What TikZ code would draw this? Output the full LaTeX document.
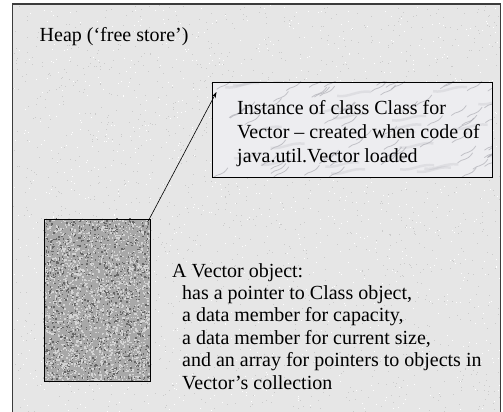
\documentclass[tikz,border=0pt]{standalone}
\usepackage{fontspec}
\setmainfont{Liberation Serif}
\usetikzlibrary{arrows.meta}
\definecolor{heapbg}{HTML}{E6E6E6}
\definecolor{heapdot}{HTML}{CBCBCB}
\definecolor{framec}{HTML}{3C3C3C}
\definecolor{marble}{HTML}{EDEDF0}
\definecolor{vein}{HTML}{9E9EA6}
\definecolor{granite}{HTML}{A8A8A8}
\definecolor{granitedark}{HTML}{666666}
\definecolor{granitelight}{HTML}{D4D4D4}
\tikzset{
  frameline/.style={draw=framec, line width=1.4pt},
  objbox/.style={draw=black, line width=1pt, inner sep=0pt, anchor=north west},
  body/.style={inner sep=0pt, anchor=base west, align=left, text=black},
  pointer/.style={draw=black, line width=0.6pt, -{Stealth[length=6pt,width=4pt]}},
}
\begin{document}
\begin{tikzpicture}[x=1pt, y=-1pt]
\useasboundingbox (0,0) rectangle (503,412);
\clip (0,0) rectangle (503,412);
\fill[white] (0,0) rectangle (503,412);

% heap area with a speckled stone fill
\fill[heapbg] (12.5,4) rectangle (500.5,420);
\pgfmathsetseed{17}
\foreach \i in {1,...,1600} {
  \fill[heapdot] ({13+487*rnd},{5+410*rnd}) rectangle ++(1,1);
}
\foreach \i in {1,...,1000} {
  \fill[white] ({13+487*rnd},{5+410*rnd}) rectangle ++(1,1);
}
\draw[frameline] (12.5,420) -- (12.5,4) -- (500.5,4) -- (500.5,420);

% the Class instance: marble slab
\node[objbox, fill=marble, minimum width=280pt, minimum height=95pt] (cls) at (211.5,81.5) {};
\begin{scope}
  \clip (cls.north west) rectangle (cls.south east);
  \foreach \i in {1,...,24} {
    \pgfmathsetmacro{\vx}{205+290*rnd}
    \pgfmathsetmacro{\vy}{78+100*rnd}
    \draw[vein, line width=2.5pt, opacity=0.18]
      (\vx,\vy) .. controls ({\vx+12},{\vy+2}) and ({\vx+20},{\vy-6}) .. ({\vx+34},{\vy-4});
  }
  \foreach \i in {1,...,70} {
    \pgfmathsetmacro{\vx}{205+290*rnd}
    \pgfmathsetmacro{\vy}{78+100*rnd}
    \draw[vein, line width=0.8pt, opacity=0.55]
      (\vx,\vy) .. controls ({\vx+5},{\vy-5}) and ({\vx+9},{\vy-1}) .. ({\vx+15},{\vy-10});
  }
\end{scope}
\node[objbox, minimum width=280pt, minimum height=95pt] at (211.5,81.5) {};

% the Vector object: granite block
\node[objbox, fill=granite, minimum width=106.5pt, minimum height=162.5pt] (vec) at (43.5,218.5) {};
\begin{scope}
  \clip (vec.north west) rectangle (vec.south east);
  \foreach \i in {1,...,1200} {
    \fill[granitedark] ({43+107*rnd},{218+163*rnd}) rectangle ++(1.4,1.4);
  }
  \foreach \i in {1,...,1900} {
    \fill[granitelight] ({43+107*rnd},{218+163*rnd}) rectangle ++(1.4,1.4);
  }
\end{scope}
\node[objbox, minimum width=106.5pt, minimum height=162.5pt] at (43.5,218.5) {};

% texts (multi-line nodes are placed by the baseline of their last line)
\node[body, font=\fontsize{20}{24}\selectfont] (heap) at (39.5,41.7) {Heap (‘free store’)};
\node[body, font=\fontsize{20}{24.3}\selectfont] (clstext) at (237,162.7)
  {Instance of class Class for\\Vector – created when code of\\java.util.Vector loaded};
\node[body, font=\fontsize{20}{22.4}\selectfont] (vectext) at (172,389)
  {A Vector object:\\
   \hspace*{10pt}has a pointer to Class object,\\
   \hspace*{10pt}a data member for capacity,\\
   \hspace*{10pt}a data member for current size,\\
   \hspace*{10pt}and an array for pointers to objects in\\
   \hspace*{10pt}Vector’s collection};

% pointer from the Vector object to its Class instance
\coordinate (tip) at (216.5,92);
\draw[pointer] ([shift={(-3,3)}]vec.north east) -- (tip);
\end{tikzpicture}
\end{document}
